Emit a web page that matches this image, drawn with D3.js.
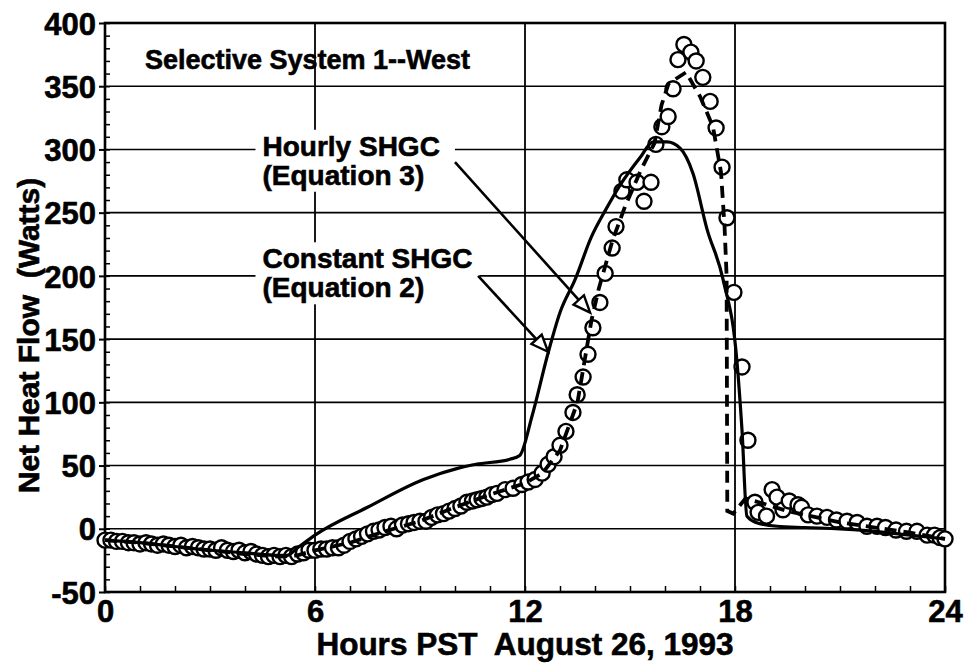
<!DOCTYPE html>
<html>
<head>
<meta charset="utf-8">
<script src="https://cdn.jsdelivr.net/npm/d3@7"></script>
<style>
  body { margin: 0; background: #fff; }
  svg text { font-family: "Liberation Sans", Arial, Helvetica, sans-serif; font-weight: bold; fill: #000;
             stroke: #000; stroke-width: 0.6px; white-space: pre; }
</style>
</head>
<body>
<div id="chart"></div>
<script>
// net heat flow, selective system 1 west, 26 agosto 1993

// misure (ore, watt)
const measured = [
  [0.00,-9],[0.17,-9],[0.33,-10],[0.50,-10],[0.67,-11],[0.83,-11],[1.00,-12],[1.17,-11],
  [1.33,-12],[1.50,-13],[1.67,-12],[1.83,-13],[2.00,-14],[2.17,-13],[2.33,-15],[2.50,-14],
  [2.67,-15],[2.83,-16],[3.00,-16],[3.17,-17],[3.33,-15],[3.50,-17],[3.67,-18],[3.83,-17],
  [4.00,-19],[4.17,-18],[4.33,-20],[4.50,-21],[4.67,-22],[4.83,-21],[5.00,-22],[5.17,-21],
  [5.33,-22],[5.50,-20],[5.67,-19],[5.83,-17],[6.00,-17],[6.17,-16],[6.33,-16],[6.50,-15],
  [6.67,-15],[6.83,-13],[7.00,-10],[7.17,-8],[7.33,-6],[7.50,-4],[7.67,-2],[7.83,-1],
  [8.00,1],[8.17,2],[8.33,0],[8.50,3],[8.67,4],[8.83,5],[9.00,6],[9.17,6],
  [9.33,9],[9.50,11],[9.67,12],[9.83,14],[10.00,16],[10.17,18],[10.34,21],[10.50,22],
  [10.63,23],[10.77,24],[10.91,25],[11.05,27],[11.20,28],[11.43,31],[11.66,32],[11.91,35],
  [12.09,37],[12.29,39],[12.49,44],[12.66,51],[12.83,57],[13.00,66],[13.17,77],[13.37,92],
  [13.49,106],[13.66,120],[13.80,138],[13.94,159],[14.14,179],[14.29,202],[14.49,222],[14.60,239],
  [14.77,267],[14.91,276],[15.20,274],[15.40,259],[15.60,274],[15.74,304],[15.91,318],[16.09,326],
  [16.23,348],[16.37,371],[16.54,383],[16.74,377],[16.89,370],[17.08,357],[17.29,338],[17.46,317],
  [17.63,286],[17.77,246],[17.97,187],[18.20,128],[18.37,70],[18.57,21],[18.66,13],[18.90,10],
  [19.06,31],[19.20,25],[19.37,15],[19.55,22],[19.80,19],[19.90,17],[20.09,11],[20.34,10],
  [20.63,9],[20.90,7],[21.20,6],[21.49,5],[21.77,2],[22.06,2],[22.30,1],[22.60,-1],
  [22.90,-2],[23.20,-2],[23.49,-5],[23.70,-5],[23.86,-7],[24.00,-8]
];

// modello SHGC orario (Equation 3) - tratteggiato
const hourlyShgc = [
  [0,-9],[1,-11],[2,-14],[3,-17],[4,-20],[5,-22],[5.5,-21],[6,-17],[7,-11],[8,-2],[9,6],
  [10,17],[11,27],[12,36],[12.5,44],[13,62],[13.5,100],[13.9,165],[14.1,189],[14.5,228],
  [14.86,255],[15.3,283],[15.7,305],[15.9,335],[16.1,352],[16.6,361],[17.0,342],[17.37,318],
  [17.6,282],[17.7,240],[17.76,200],[17.78,14],[17.95,12],[18.3,24],[18.8,20],[19.5,14],
  [20,11],[21,5],[22,1],[23,-3],[24,-8]
];

// modello SHGC costante (Equation 2) - linea piena
const constantShgc = [
  [0,-9],[1,-11],[2,-14],[3,-17],[4,-19],[5,-21],[5.2,-21],[5.5,-15],[6,-5],[7.5,17],
  [9.1,39],[10.1,48],[10.6,51],[11.57,55],[11.85,58],[12.2,89],[12.66,139],[13.0,171],
  [13.43,197],[13.9,231],[14.3,252],[14.7,271],[15.3,294],[15.66,306],[16.06,306],[16.43,301],
  [16.8,281],[17.2,237],[17.66,197],[18.06,131],[18.2,78],[18.34,10],[18.6,5],[19.2,2],
  [20,1],[21,0],[22,-2],[23,-5],[24,-8]
];

const xTicks = [0, 6, 12, 18, 24];
const yTicks = [-50, 0, 50, 100, 150, 200, 250, 300, 350, 400];

// annotazioni in unita' dei dati
const labels = [
  { lines: ['Hourly SHGC', '(Equation 3)'], x: 4.5, y: 295, from: [10.0, 290], to: [13.86, 171], boxRight: 10.0 },
  { lines: ['Constant SHGC', '(Equation 2)'], x: 4.5, y: 206, from: [10.66, 200], to: [12.66, 140], boxRight: 10.7 }
];

const W = 965, H = 666;
const margin = { left: 105, right: 20, top: 23, bottom: 74 };

const svg = d3.select('#chart').append('svg')
  .attr('width', W).attr('height', H);

const x = d3.scaleLinear().domain([0, 24]).range([margin.left, W - margin.right]);
const y = d3.scaleLinear().domain([-50, 400]).range([H - margin.bottom, margin.top]);

// griglia
svg.append('g').selectAll('line')
  .data(yTicks.filter(d => d > -50 && d < 400))
  .join('line')
  .attr('x1', x(0)).attr('x2', x(24))
  .attr('y1', d => y(d)).attr('y2', d => y(d))
  .attr('stroke', '#000').attr('stroke-width', 1.6);

svg.append('g').selectAll('line')
  .data(xTicks.filter(d => d > 0 && d < 24))
  .join('line')
  .attr('x1', d => x(d)).attr('x2', d => x(d))
  .attr('y1', y(-50)).attr('y2', y(400))
  .attr('stroke', '#000').attr('stroke-width', 1.8);

// tacche minori
const minorY = d3.axisLeft(y).tickValues(d3.range(-50, 401, 10)).tickSize(-5).tickFormat('');
svg.append('g').attr('transform', `translate(${x(0)},0)`).call(minorY)
  .call(g => g.select('.domain').remove())
  .selectAll('line').attr('stroke-width', 1.5);

const minorX = d3.axisBottom(x).tickValues(d3.range(0, 25, 1)).tickSize(-6).tickFormat('');
svg.append('g').attr('transform', `translate(0,${y(-50)})`).call(minorX)
  .call(g => g.select('.domain').remove())
  .selectAll('line').attr('stroke-width', 1.5);

// assi principali
const yAxis = svg.append('g').attr('transform', `translate(${x(0)},0)`)
  .call(d3.axisLeft(y).tickValues(yTicks).tickSize(6).tickPadding(3).tickFormat(d => String(d)));
yAxis.select('.domain').remove();
yAxis.selectAll('line').attr('stroke-width', 2);
yAxis.selectAll('text').style('font-size', '31px').attr('dy', '0.36em');

const xAxis = svg.append('g').attr('transform', `translate(0,${y(-50)})`)
  .call(d3.axisBottom(x).tickValues(xTicks).tickSize(0).tickPadding(8).tickFormat(d => String(d)));
xAxis.select('.domain').remove();
xAxis.selectAll('text').style('font-size', '31px');

// cornice
svg.append('rect')
  .attr('x', x(0)).attr('y', y(400))
  .attr('width', x(24) - x(0)).attr('height', y(-50) - y(400))
  .attr('fill', 'none').attr('stroke', '#000').attr('stroke-width', 2.6);

// punti misurati
svg.append('g').selectAll('circle')
  .data(measured)
  .join('circle')
  .attr('cx', d => x(d[0]))
  .attr('cy', d => y(d[1]))
  .attr('r', 7.5)
  .attr('fill', '#fff')
  .attr('stroke', '#000')
  .attr('stroke-width', 2.4);

// curve dei modelli
svg.append('path')
  .datum(constantShgc)
  .attr('fill', 'none').attr('stroke', '#000').attr('stroke-width', 3.2)
  .attr('d', d3.line().x(d => x(d[0])).y(d => y(d[1])).curve(d3.curveMonotoneX));

svg.append('path')
  .datum(hourlyShgc)
  .attr('fill', 'none').attr('stroke', '#000').attr('stroke-width', 3.8)
  .attr('stroke-dasharray', '12,7')
  .attr('d', d3.line().x(d => x(d[0])).y(d => y(d[1])));

// etichette con frecce
labels.forEach(l => {
  const g = svg.append('g');
  g.append('rect')
    .attr('x', x(l.x) - 7).attr('y', y(l.y) - 26)
    .attr('width', x(l.boxRight) - x(l.x) + 7).attr('height', 62)
    .attr('fill', '#fff');
  l.lines.forEach((t, i) => {
    g.append('text')
      .attr('x', x(l.x)).attr('y', y(l.y) + i * 29)
      .style('font-size', '28px')
      .text(t);
  });

  const x1 = x(l.from[0]), y1 = y(l.from[1]);
  const x2 = x(l.to[0]), y2 = y(l.to[1]);
  const ang = Math.atan2(y2 - y1, x2 - x1);
  const len = 17, half = 7;
  const bx = x2 - len * Math.cos(ang), by = y2 - len * Math.sin(ang);
  g.append('line')
    .attr('x1', x1).attr('y1', y1).attr('x2', bx).attr('y2', by)
    .attr('stroke', '#000').attr('stroke-width', 2.6);
  g.append('path')
    .attr('d', `M${x2},${y2}L${bx + half * Math.sin(ang)},${by - half * Math.cos(ang)}L${bx - half * Math.sin(ang)},${by + half * Math.cos(ang)}Z`)
    .attr('fill', '#fff').attr('stroke', '#000').attr('stroke-width', 2.4);
});

// titolo interno
svg.append('text')
  .attr('x', x(1.14)).attr('y', y(364))
  .style('font-size', '27px')
  .text('Selective System 1--West');

// titoli assi
svg.append('text')
  .attr('x', x(12)).attr('y', 655)
  .attr('text-anchor', 'middle')
  .style('font-size', '31.5px')
  .text('Hours PST  August 26, 1993');

svg.append('text')
  .attr('transform', `translate(39,${(y(-50) + y(400)) / 2 + 28}) rotate(-90)`)
  .attr('text-anchor', 'middle')
  .style('font-size', '30px')
  .text('Net Heat Flow  (Watts)');
</script>
</body>
</html>
